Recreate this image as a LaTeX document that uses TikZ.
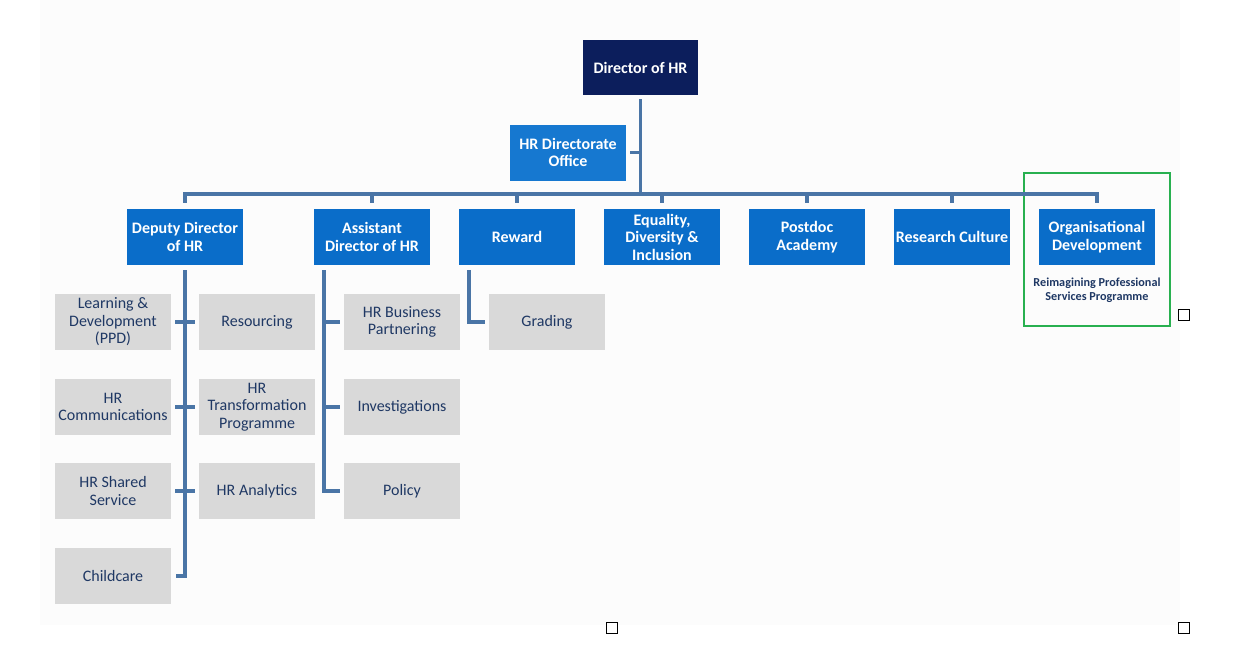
\documentclass[tikz,border=0pt]{standalone}
\usepackage{fontspec}
\setmainfont{Carlito}
\definecolor{navybox}{RGB}{12,30,92}
\definecolor{bluebox}{RGB}{10,109,201}
\definecolor{blueboxl}{RGB}{22,120,208}
\definecolor{graybox}{RGB}{217,217,217}
\definecolor{linec}{RGB}{74,117,166}
\definecolor{txtnavy}{RGB}{31,56,100}
\definecolor{greenc}{RGB}{40,176,80}
\definecolor{bgc}{RGB}{252,252,252}
\tikzset{
  topbox/.style={fill=bluebox, text=white, minimum width=116pt, minimum height=56pt, inner sep=1pt, align=center, font=\fontsize{16}{17.5}\selectfont\bfseries},
  subbox/.style={fill=graybox, text=txtnavy, minimum width=116pt, minimum height=56pt, inner sep=1pt, align=center, font=\fontsize{16}{17.5}\selectfont},
  conn/.style={draw=linec, line width=3.6pt},
  marker/.style={draw=black, fill=white, line width=1pt, minimum size=11pt, inner sep=0pt},
}
\begin{document}
\begin{tikzpicture}[x=1pt,y=-1pt]
\useasboundingbox (0,0) rectangle (1248,654);
\fill[bgc] (40,0) rectangle (1180,625);
% top
\node[topbox, fill=navybox, minimum width=115pt, minimum height=55pt] (dir) at (640.5,67.5) {Director of HR};
\node[topbox, fill=blueboxl] (hrdo) at (568,152.5) {HR Directorate\\Office};
\coordinate (bus) at (640,194);
% level 1
\node[topbox] (dd) at (185,237) {Deputy Director\\of HR};
\node[topbox] (ad) at (372,237) {Assistant\\Director of HR};
\node[topbox] (rw) at (517,237) {Reward};
\node[topbox] (edi) at (662,237) {Equality,\\Diversity \&\\Inclusion};
\node[topbox] (pa) at (807,237) {Postdoc\\Academy};
\node[topbox] (rc) at (952,237) {Research Culture};
\node[topbox] (od) at (1097,237) {Organisational\\Development};
\node[text=txtnavy, align=center, font=\fontsize{12.2}{14.5}\selectfont\bfseries] (rpsp) at (1097,290) {Reimagining Professional\\Services Programme};
\draw[draw=greenc, line width=2pt] (1024,173) rectangle (1170,326);
% level 2
\node[subbox] (ld) at (113,322) {Learning \&\\Development\\(PPD)};
\node[subbox] (hc) at (113,407) {HR\\Communications};
\node[subbox] (hss) at (113,491) {HR Shared\\Service};
\node[subbox] (cc) at (113,576) {Childcare};
\node[subbox] (res) at (257,322) {Resourcing};
\node[subbox] (htp) at (257,407) {HR\\Transformation\\Programme};
\node[subbox] (ha) at (257,491) {HR Analytics};
\node[subbox] (hbp) at (402,322) {HR Business\\Partnering};
\node[subbox] (inv) at (402,407) {Investigations};
\node[subbox] (pol) at (402,491) {Policy};
\node[subbox] (gr) at (547,322) {Grading};
% connectors top
\draw[conn, shorten <=4pt] (dir.south) -- (dir.south |- bus);
\draw[conn, shorten <=4pt] (hrdo.east) -- (hrdo.east -| bus);
\draw[conn, shorten <=6pt, shorten >=6pt] (dd.north) -- (dd.north |- bus) -- (od.north |- bus) -- (od.north);
\foreach \n in {ad,rw,edi,pa,rc} \draw[conn, shorten <=6pt] (\n.north) -- (\n.north |- bus);
% deputy
\draw[conn, shorten <=5pt, shorten >=5pt] (dd.south) -- (dd.south |- cc.east) -- (cc.east);
\draw[conn, shorten <=4pt, shorten >=4pt] (ld.east) -- (res.west);
\draw[conn, shorten <=4pt, shorten >=4pt] (hc.east) -- (htp.west);
\draw[conn, shorten <=4pt, shorten >=4pt] (hss.east) -- (ha.west);
% assistant
\coordinate (adv) at ([xshift=10pt]ad.south west);
\draw[conn, shorten <=5pt, shorten >=4pt] (adv) -- (adv |- pol.west) -- (pol.west);
\draw[conn, shorten >=4pt] (adv |- hbp.west) -- (hbp.west);
\draw[conn, shorten >=4pt] (adv |- inv.west) -- (inv.west);
% reward
\coordinate (rwv) at ([xshift=10pt]rw.south west);
\draw[conn, shorten <=5pt, shorten >=4pt] (rwv) -- (rwv |- gr.west) -- (gr.west);
% markers
\node[marker] (m1) at (1184,315) {};
\node[marker] (m2) at (612,628) {};
\node[marker] (m3) at (1184,628) {};
\end{tikzpicture}
\end{document}
